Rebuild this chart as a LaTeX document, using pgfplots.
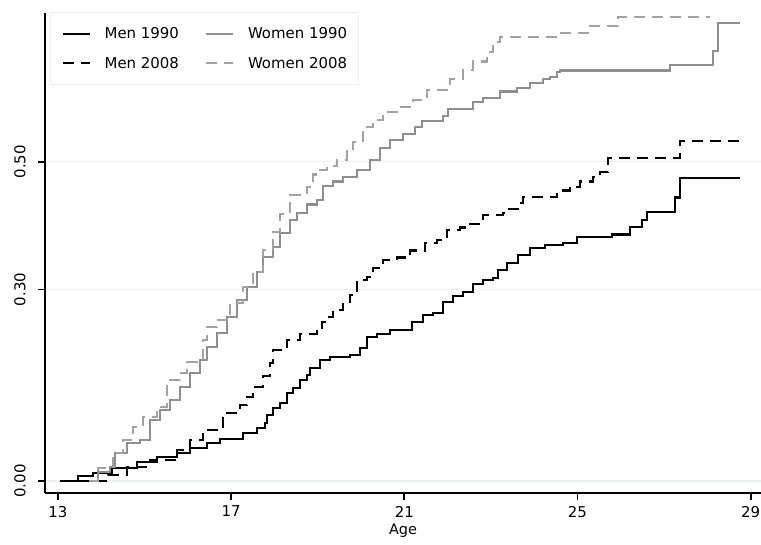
\documentclass[border=0pt]{standalone}
\usepackage{fontspec}
\setmainfont{DejaVu Sans}
\usepackage{pgfplots}
\pgfplotsset{compat=1.18}
\definecolor{gridc}{HTML}{E8F0F0}
\definecolor{wgray}{HTML}{8E8E8E}
\definecolor{wgraytwo}{HTML}{A2A2A2}
\begin{document}
\begin{tikzpicture}
\begin{axis}[
  scale only axis, width=716bp, height=480bp,
  xmin=12.70, xmax=29.24, ymin=-0.0188, ymax=0.733,
  axis x line*=bottom, axis y line*=left,
  axis line style={line width=1.8bp, black},
  xtick={13,17,21,25,29}, xticklabels={13,17,21,25,29},
  ytick={0,0.3,0.5}, yticklabels={0.00,0.30,0.50},
  tick align=outside, major tick length=7bp,
  tick style={line width=1.8bp, black},
  ymajorgrids, grid style={gridc, line width=1.3bp},
  ticklabel style={font=\fontsize{15}{18}\selectfont},
  yticklabel style={rotate=90, anchor=south},
  yticklabel shift=9bp, xticklabel shift=2.5bp,
  xlabel={Age}, xlabel style={font=\fontsize{14.5}{17}\selectfont},
  legend columns=2, legend cell align=left,
  legend style={at={(rel axis cs:0.007,1.002)}, anchor=north west,
    draw=gridc, line width=1bp, fill=white,
    inner xsep=11bp, inner ysep=15bp, row sep=17bp,
    nodes={inner sep=0pt},
    font=\fontsize{15}{18}\selectfont,
    /tikz/every odd column/.append style={column sep=14bp},
    /tikz/every even column/.append style={column sep=26bp}},
  legend image code/.code={\draw[#1] (0bp,0bp) -- (27bp,0bp);},
  every axis plot/.append style={line width=2.1bp, const plot},
]
\coordinate (ll) at (rel axis cs:0,0);
\coordinate (ur) at (rel axis cs:1,1);
% Men 1990
\addplot[black] coordinates {
(13.05,0) (13.47,0.008) (13.81,0.013) (14.25,0.020) (14.82,0.030) (15.29,0.038)
(15.75,0.044) (16.05,0.052) (16.44,0.060) (16.74,0.066) (17.27,0.075) (17.60,0.083)
(17.78,0.091) (17.83,0.103) (17.97,0.114) (18.13,0.122) (18.29,0.138) (18.43,0.146)
(18.59,0.158) (18.75,0.166) (18.82,0.177) (19.05,0.190) (19.28,0.194) (19.74,0.197)
(19.97,0.208) (20.14,0.226) (20.37,0.230) (20.67,0.237) (21.18,0.249) (21.43,0.260)
(21.66,0.263) (21.89,0.281) (22.12,0.290) (22.35,0.296) (22.58,0.309) (22.82,0.315)
(23.05,0.318) (23.16,0.331) (23.37,0.342) (23.62,0.354) (23.90,0.365) (24.25,0.370)
(24.66,0.373) (24.99,0.382) (25.79,0.386) (26.21,0.398) (26.49,0.409) (26.60,0.422)
(27.25,0.444) (27.36,0.475) (28.75,0.475)};
\addlegendentry{Men 1990}
% Women 1990
\addplot[wgray] coordinates {
(13.67,0) (13.92,0.014) (14.20,0.022) (14.32,0.044) (14.59,0.060) (14.89,0.064)
(15.12,0.096) (15.36,0.111) (15.59,0.127) (15.82,0.147) (16.05,0.169) (16.28,0.190)
(16.44,0.210) (16.67,0.232) (16.90,0.257) (17.13,0.284) (17.36,0.304) (17.60,0.328)
(17.73,0.351) (17.97,0.367) (18.13,0.389) (18.36,0.409) (18.52,0.420) (18.75,0.433)
(18.98,0.440) (19.12,0.462) (19.35,0.469) (19.58,0.476) (19.91,0.487) (20.21,0.503)
(20.44,0.522) (20.67,0.534) (20.97,0.544) (21.25,0.555) (21.41,0.564) (21.89,0.571)
(22.01,0.582) (22.58,0.594) (22.82,0.600) (23.21,0.610) (23.60,0.616) (23.90,0.624)
(24.20,0.629) (24.36,0.633) (24.52,0.640) (24.59,0.643) (27.13,0.652) (28.13,0.674)
(28.24,0.718) (28.75,0.718)};
\addlegendentry{Women 1990}
% Men 2008
\addplot[black, dash pattern=on 11bp off 7bp] coordinates {
(13.05,0) (14.15,0.010) (14.59,0.022) (15.12,0.033) (15.75,0.049) (16.05,0.064)
(16.35,0.080) (16.81,0.107) (17.20,0.119) (17.36,0.132) (17.50,0.147) (17.73,0.165)
(17.90,0.185) (17.97,0.205) (18.29,0.221) (18.59,0.230) (18.98,0.235) (19.10,0.249)
(19.21,0.257) (19.35,0.268) (19.58,0.281) (19.74,0.292) (19.91,0.315) (20.14,0.320)
(20.27,0.334) (20.51,0.346) (20.83,0.350) (21.13,0.361) (21.48,0.373) (21.75,0.378)
(21.98,0.393) (22.28,0.397) (22.52,0.403) (22.82,0.417) (23.28,0.420) (23.39,0.426)
(23.62,0.436) (23.74,0.445) (24.52,0.455) (24.82,0.461) (25.06,0.469) (25.36,0.476)
(25.52,0.484) (25.70,0.506) (27.36,0.533) (28.75,0.533)};
\addlegendentry{Men 2008}
% Women 2008
\addplot[wgraytwo, dash pattern=on 11bp off 7bp] coordinates {
(13.74,0) (13.92,0.020) (14.27,0.044) (14.50,0.064) (14.73,0.085) (14.96,0.100)
(15.29,0.116) (15.52,0.158) (15.82,0.169) (15.98,0.187) (16.35,0.221) (16.44,0.241)
(16.67,0.252) (16.97,0.279) (17.27,0.304) (17.50,0.328) (17.73,0.362) (17.97,0.390)
(18.13,0.418) (18.36,0.448) (18.75,0.461) (18.89,0.480) (18.98,0.487) (19.21,0.494)
(19.44,0.503) (19.67,0.516) (19.81,0.531) (20.04,0.555) (20.27,0.566) (20.51,0.578)
(20.83,0.586) (21.20,0.597) (21.52,0.613) (22.05,0.629) (22.35,0.644) (22.58,0.657)
(22.91,0.672) (23.05,0.687) (23.21,0.696) (24.50,0.702) (25.29,0.712) (25.93,0.727)
(28.06,0.727)};
\addlegendentry{Women 2008}
\end{axis}
\pgfresetboundingbox
\path ([shift={(-45bp,-52bp)}]ll) rectangle ([shift={(0bp,13bp)}]ur);
\end{tikzpicture}
\end{document}
